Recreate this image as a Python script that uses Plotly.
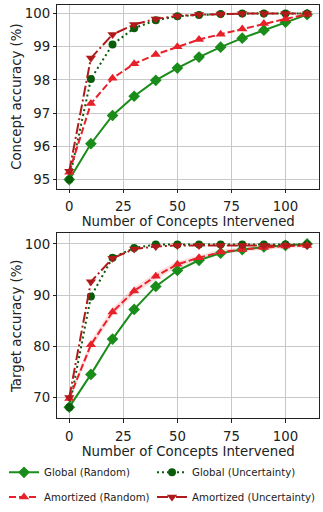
import plotly.graph_objects as go

x = [0, 10, 20, 30, 40, 50, 60, 70, 80, 90, 100, 110]

# Concept accuracy (%)
c_global_random = [95.0, 96.08, 96.93, 97.51, 97.99, 98.36, 98.69, 98.99, 99.26, 99.50, 99.74, 99.97]
c_global_unc = [95.0, 98.03, 99.07, 99.56, 99.80, 99.92, 99.96, 99.99, 100.0, 100.0, 100.0, 100.0]
c_amort_random = [95.22, 97.29, 98.05, 98.49, 98.77, 99.00, 99.22, 99.38, 99.54, 99.70, 99.84, 99.98]
c_amort_unc = [95.25, 98.66, 99.37, 99.67, 99.84, 99.93, 99.97, 99.99, 100.0, 100.0, 100.0, 100.0]

# Target accuracy (%)
t_global_random = [68.1, 74.5, 81.4, 87.2, 91.7, 94.8, 96.8, 98.2, 98.9, 99.4, 99.7, 100.0]
t_global_unc = [68.1, 89.7, 97.3, 99.2, 99.9, 99.9, 99.9, 99.9, 99.9, 99.9, 99.9, 99.9]
t_amort_random = [69.8, 80.3, 86.7, 90.8, 93.7, 96.0, 97.3, 98.4, 98.9, 99.3, 99.6, 99.7]
t_amort_unc = [70.0, 92.6, 97.2, 99.0, 99.5, 99.7, 99.7, 99.7, 99.7, 99.7, 99.7, 99.7]
t_amort_random_std = [0.6, 0.8, 0.8, 0.7, 0.7, 0.6, 0.5, 0.5, 0.4, 0.4, 0.4, 0.4]

names = ["Global (Random)", "Global (Uncertainty)", "Amortized (Random)", "Amortized (Uncertainty)"]
colors = ["#1a8c1a", "#0a5c0a", "#e8202a", "#b01a1a"]
symbols = ["diamond", "circle", "triangle-up", "triangle-down"]
dashes = ["solid", "2px,3px", "7px,3px", "11px,3px,2px,3px"]
msizes = [9, 8, 9, 9]
legends = ["legend", "legend2", "legend3", "legend4"]

fig = go.Figure()

# light band around amortized random (bottom)
fig.add_trace(go.Scatter(
    x=x + x[::-1],
    y=[v + s for v, s in zip(t_amort_random, t_amort_random_std)] +
      [v - s for v, s in zip(t_amort_random, t_amort_random_std)][::-1],
    fill="toself", fillcolor="rgba(232,32,42,0.15)", line=dict(width=0),
    hoverinfo="skip", showlegend=False, xaxis="x2", yaxis="y2"))

top = [c_global_random, c_global_unc, c_amort_random, c_amort_unc]
bot = [t_global_random, t_global_unc, t_amort_random, t_amort_unc]

for i in range(4):
    for ax, data, show in (("", top[i], True), ("2", bot[i], False)):
        fig.add_trace(go.Scatter(
            x=x, y=data, mode="lines+markers", name=names[i],
            line=dict(color=colors[i], width=2, dash=dashes[i]),
            marker=dict(symbol=symbols[i], size=msizes[i], color=colors[i]),
            showlegend=show, legend=legends[i],
            xaxis="x" + ax, yaxis="y" + ax))

W, H = 323, 512


def ydom(px_bottom, px_top):
    return [max(0.0, (H - px_bottom) / H), min(1.0, (H - px_top) / H)]


xdom = [57.4 / W, 319.0 / W]
FS = 13.3

axis_common = dict(
    showline=True, linecolor="#222", linewidth=1, mirror=True,
    showgrid=True, gridcolor="#c8c8c8", gridwidth=1,
    ticks="outside", ticklen=3.5, tickcolor="#222",
    tickfont=dict(size=FS, color="#222"), zeroline=False,
)


def leg(px_x, px_y):
    return dict(orientation="h", x=px_x / W, y=1 - px_y / H,
                xanchor="left", yanchor="middle",
                font=dict(size=10.2, color="#222"), bgcolor="rgba(0,0,0,0)")


fig.update_layout(
    width=W, height=H,
    margin=dict(l=0, r=0, t=0, b=0),
    paper_bgcolor="white", plot_bgcolor="white",
    font=dict(family="DejaVu Sans", color="#222"),
    xaxis=dict(domain=xdom, anchor="y", range=[-5.5, 115.5],
               tickvals=[0, 25, 50, 75, 100], ticklabelstandoff=2,
               title=dict(text="Number of Concepts Intervened", font=dict(size=FS), standoff=2),
               **axis_common),
    yaxis=dict(domain=ydom(190, 4.7), anchor="x", range=[94.73, 100.27],
               tickvals=[95, 96, 97, 98, 99, 100],
               title=dict(text="Concept accuracy (%)", font=dict(size=FS), standoff=0),
               **axis_common),
    xaxis2=dict(domain=xdom, anchor="y2", range=[-5.5, 115.5],
                tickvals=[0, 25, 50, 75, 100], ticklabelstandoff=2,
                title=dict(text="Number of Concepts Intervened", font=dict(size=FS), standoff=2),
                **axis_common),
    yaxis2=dict(domain=ydom(421.7, 235), anchor="x2", range=[65.9, 102.1],
                tickvals=[70, 80, 90, 100],
                title=dict(text="Target accuracy (%)", font=dict(size=FS), standoff=0),
                **axis_common),
    legend=leg(4, 476),
    legend2=leg(152, 476),
    legend3=leg(4, 501),
    legend4=leg(152, 501),
)

fig.write_html("out.html",
               config={"displayModeBar": False},
               post_script="document.body.style.margin='0';document.body.style.overflow='hidden';")
